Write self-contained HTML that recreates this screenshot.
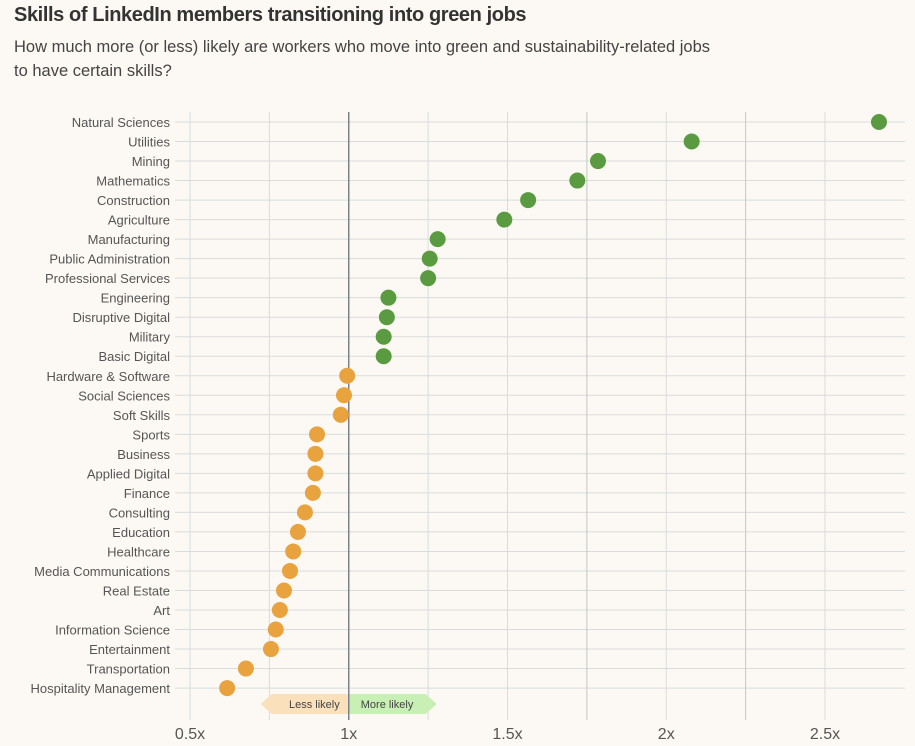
<!DOCTYPE html>
<html><head><meta charset="utf-8">
<style>
body{margin:0;background:#fcf9f4;font-family:"Liberation Sans",sans-serif;}
#wrap{position:relative;width:915px;height:746px;overflow:hidden;}
h1{position:absolute;left:14px;top:4px;margin:0;font-size:20px;font-weight:bold;color:#333;letter-spacing:-0.4px}
p.sub{position:absolute;left:14px;top:35px;margin:0;font-size:16.5px;color:#444;line-height:24px;width:760px}
</style></head><body>
<div id="wrap">
<h1>Skills of LinkedIn members transitioning into green jobs</h1>
<p class="sub">How much more (or less) likely are workers who move into green and sustainability-related jobs<br>to have certain skills?</p>
<svg id="chart" width="915" height="746" style="position:absolute;left:0;top:0"></svg>
</div>
<script>
const categories=["Natural Sciences","Utilities","Mining","Mathematics","Construction","Agriculture","Manufacturing","Public Administration","Professional Services","Engineering","Disruptive Digital","Military","Basic Digital","Hardware & Software","Social Sciences","Soft Skills","Sports","Business","Applied Digital","Finance","Consulting","Education","Healthcare","Media Communications","Real Estate","Art","Information Science","Entertainment","Transportation","Hospitality Management"];
const values=[2.67,2.08,1.785,1.72,1.565,1.49,1.28,1.255,1.25,1.125,1.12,1.11,1.11,0.995,0.985,0.975,0.90,0.895,0.895,0.887,0.862,0.84,0.825,0.815,0.796,0.783,0.77,0.755,0.676,0.617];
const tickValues=[0.5,1,1.5,2,2.5];
const tickLabels=["0.5x","1x","1.5x","2x","2.5x"];
const gridValues=[0.5,0.75,1,1.25,1.5,1.75,2,2.25,2.5];

const svg=document.getElementById('chart');
const NS='http://www.w3.org/2000/svg';
const xs=v=>190+(v-0.5)*317.5;
const ys=i=>122+i*19.52;
function mk(t,a){const e=document.createElementNS(NS,t);for(const k in a)e.setAttribute(k,a[k]);svg.appendChild(e);return e;}
const yTop=112,yBot=690;
categories.forEach((c,i)=>{
  const l=mk('line',{x1:175,x2:905,y1:ys(i),y2:ys(i),stroke:'#d9dcdc','stroke-width':1});
  
  
  const t=mk('text',{x:170,y:ys(i)+5,'text-anchor':'end','font-size':13,fill:'#555','font-family':'Liberation Sans, sans-serif'});
  t.textContent=c;
  
  
});
gridValues.forEach(v=>{
  const col=v===1?'#7d8288':(v===1.75||v===2.25?'#c4c7c8':'#d9dcdc');
  const l=mk('line',{x1:xs(v),x2:xs(v),y1:yTop,y2:yBot+30,stroke:col,'stroke-width':v===1?1.5:1});
  
  
});
const ml=mk('polygon',{points:`${xs(1)},694 ${xs(1)-77},694 ${xs(1)-88},704 ${xs(1)-77},714 ${xs(1)},714`,fill:'#fbe0bc'});


const mr=mk('polygon',{points:`${xs(1)},694 ${xs(1)+77},694 ${xs(1)+88},704 ${xs(1)+77},714 ${xs(1)},714`,fill:'#c9f0b4'});


const lt=mk('text',{x:xs(1)-9,y:708,'text-anchor':'end','font-size':11,fill:'#444'});lt.textContent='Less likely';


const rt=mk('text',{x:xs(1)+12,y:708,'font-size':11,fill:'#444'});rt.textContent='More likely';


mk('line',{x1:xs(1),x2:xs(1),y1:yTop,y2:720,stroke:'#7d8288','stroke-width':1.5});
tickValues.forEach((v,i)=>{
  const t=mk('text',{x:xs(v),y:739,'text-anchor':'middle','font-size':16,fill:'#555'});
  t.textContent=tickLabels[i];
  
  
});
values.forEach((v,i)=>{
  const d=mk('circle',{cx:xs(v),cy:ys(i),r:8,fill:v>=1.05?'#5a9a40':'#e8a23e'});
  
  
});
</script>
</body></html>
